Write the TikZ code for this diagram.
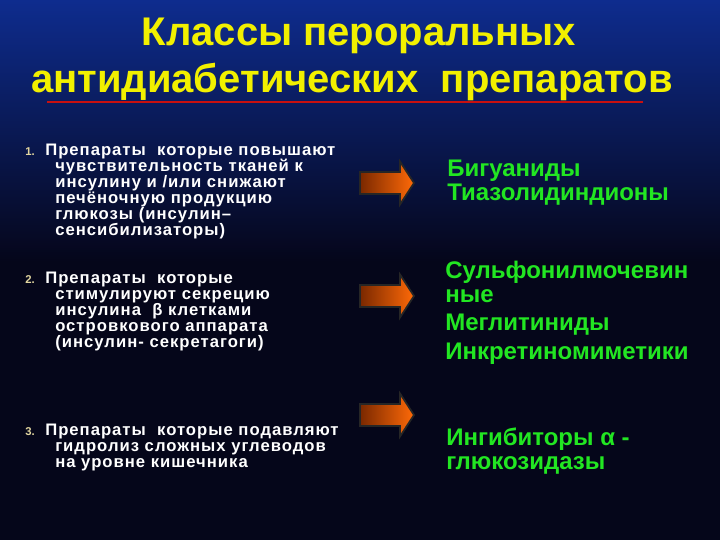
\documentclass[tikz,border=0pt]{standalone}
\usepackage{fontspec}
\setmainfont{Liberation Sans}
\usetikzlibrary{shadings,shadows}
\definecolor{bgtop}{HTML}{0E2C8E}
\definecolor{bgbot}{HTML}{05061A}
\definecolor{ttl}{HTML}{F2F000}
\definecolor{grn}{HTML}{22E622}
\definecolor{numc}{HTML}{E2D6A0}
\definecolor{uline}{HTML}{C81010}
\definecolor{arrL}{HTML}{7A2800}
\definecolor{arrR}{HTML}{FF6A08}
\newfontfamily\lefttext[LetterSpace=6]{Liberation Sans Bold}
\newcommand\lstr{\rule{0pt}{12pt}}
\newcommand\rstr{\rule{0pt}{18pt}}
\begin{document}
\begin{tikzpicture}[x=0.75pt,y=-0.75pt,
  titletext/.style={anchor=base, text=ttl, font=\fontsize{30}{36}\selectfont\bfseries},
  lefttxt/.style={anchor=north west, inner sep=0pt, text=white, align=left, font=\fontsize{12.5}{12}\selectfont\lefttext},
  numtxt/.style={anchor=base west, inner sep=0pt, text=numc, font=\fontsize{8.5}{10}\selectfont\bfseries},
  righttxt/.style={anchor=north west, inner sep=0pt, text=grn, align=left, font=\fontsize{18}{18}\selectfont\bfseries},
  blockarrow/.style={left color=arrL, right color=arrR, draw=black!85, line width=1.3pt}
]
\useasboundingbox (0,0) rectangle (720,540);
\shade[top color=bgtop, bottom color=bgbot] (0,0) rectangle (720,262);
\fill[bgbot] (0,261) rectangle (720,540);

\node[titletext] (t1) at (359,45) {Классы пероральных};
\node[titletext] (t2) at (352,92) {антидиабетических\ \ препаратов};
\draw[uline, line width=2.2pt] (47,102) -- (643,102);

% left column (node top = first baseline - 16px)
\node[numtxt] (n1) at (25,155) {1.};
\node[lefttxt] (l1) at (45,139) {\lstr Препараты\ \ которые повышают\\
\hspace*{7.5pt}чувствительность тканей к\\
\hspace*{7.5pt}инсулину и /или снижают\\
\hspace*{7.5pt}печёночную продукцию\\
\hspace*{7.5pt}глюкозы (инсулин–\\
\hspace*{7.5pt}сенсибилизаторы)};

\node[numtxt] (n2) at (25,283) {2.};
\node[lefttxt] (l2) at (45,267) {\lstr Препараты\ \ которые\\
\hspace*{7.5pt}стимулируют секрецию\\
\hspace*{7.5pt}инсулина\ \ β клетками\\
\hspace*{7.5pt}островкового аппарата\\
\hspace*{7.5pt}(инсулин- секретагоги)};

\node[numtxt] (n3) at (25,435) {3.};
\node[lefttxt] (l3) at (45,419) {\lstr Препараты\ \ которые подавляют\\
\hspace*{7.5pt}гидролиз сложных углеводов\\
\hspace*{7.5pt}на уровне кишечника};

% arrows
\foreach \nm/\cy in {a1/183, a2/296, a3/415} {
  \path[blockarrow] (360,\cy-11) -- (400,\cy-11) -- (400,\cy-21.5) -- (414,\cy) -- (400,\cy+21.5) -- (400,\cy+11) -- (360,\cy+11) -- cycle;
}

% right column (node top = first baseline - 24px)
\node[righttxt] (r1) at (447,152) {\rstr Бигуаниды\\Тиазолидиндионы};
\node[righttxt] (r2a) at (445,254) {\rstr Сульфонилмочевин\\ные};
\node[righttxt] (r2b) at (445,306) {\rstr Меглитиниды};
\node[righttxt] (r2c) at (445,335) {\rstr Инкретиномиметики};
\node[righttxt] (r3) at (446,421) {\rstr Ингибиторы α -\\глюкозидазы};
\end{tikzpicture}
\end{document}
